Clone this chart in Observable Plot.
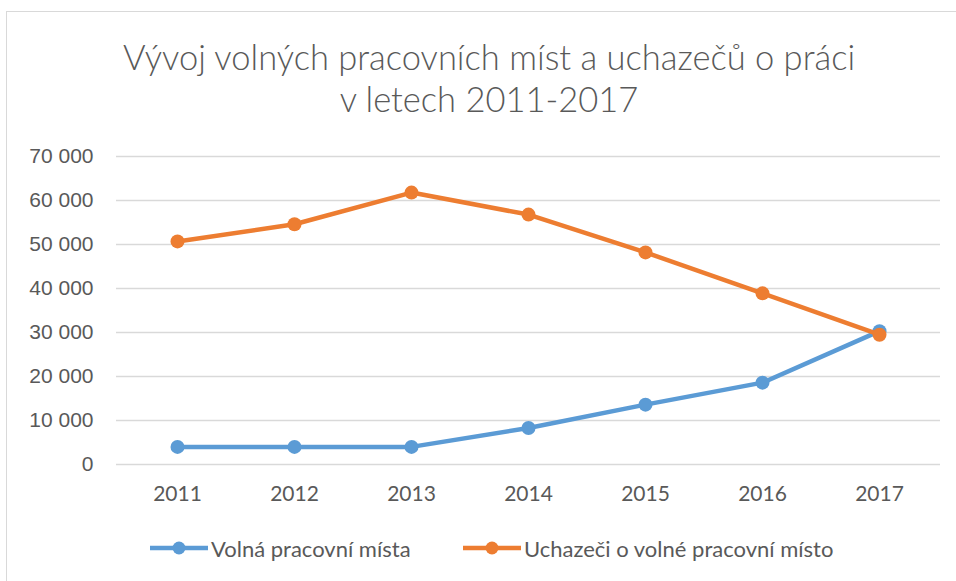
<!DOCTYPE html>
<html>
<head>
<meta charset="utf-8">
<script src="https://cdn.jsdelivr.net/npm/d3@7"></script>
<script src="https://cdn.jsdelivr.net/npm/@observablehq/plot@0.6"></script>
<style>
  html, body { margin: 0; padding: 0; background: #fff; width: 956px; height: 581px; overflow: hidden; }
  #frame { position: absolute; left: 6px; top: 11px; width: 970px; height: 600px; border: 1px solid #d9d9d9; box-sizing: border-box; }
  #title { position: absolute; left: 6px; top: 36px; width: 966px; text-align: center; font-family: Lato, "Open Sans", sans-serif; font-size: 34.5px; line-height: 42px; color: #595959; font-weight: 300; }
  #chart { position: absolute; left: 0; top: 130px; }
  #legend { position: absolute; left: 0; top: 536px; width: 956px; height: 24px; font-family: Lato, sans-serif; font-size: 22px; color: #595959; }
  .item { position: absolute; top: 0; display: flex; align-items: center; height: 24px; }
  .item svg { margin-right: 3px; }
</style>
</head>
<body>
<div id="frame"></div>
<div id="title">Vývoj volných pracovních míst a uchazečů o práci<br>v letech 2011-2017</div>
<div id="chart"></div>
<div id="legend"></div>
<script>
const years = ["2011", "2012", "2013", "2014", "2015", "2016", "2017"];
const volnaMista = [4000, 4000, 4000, 8300, 13600, 18600, 30300];
const uchazeci = [50700, 54600, 61800, 56800, 48200, 38900, 29500];
const seriesNames = ["Volná pracovní místa", "Uchazeči o volné pracovní místo"];
const seriesColors = ["#5b9bd5", "#ed7d31"];
const yTicks = [0, 10000, 20000, 30000, 40000, 50000, 60000, 70000];

const rowsA = years.map((y, i) => ({year: y, value: volnaMista[i], series: seriesNames[0]}));
const rowsB = years.map((y, i) => ({year: y, value: uchazeci[i], series: seriesNames[1]}));

const fmt = d => d3.format(",")(d).replace(/,/g, " ");

const chart = Plot.plot({
  width: 956,
  height: 390,
  marginLeft: 116,
  marginRight: 16,
  marginTop: 26,
  marginBottom: 56,
  style: { fontFamily: "'Liberation Sans', Arial, sans-serif", color: "#595959", background: "transparent" },
  x: { type: "point", domain: years, padding: 0.5 },
  y: { domain: [0, 70000] },
  marks: [
    Plot.gridY(yTicks, { stroke: "#d9d9d9", strokeOpacity: 1, strokeWidth: 1.5 }),
    Plot.axisY(yTicks, { tickSize: 0, tickPadding: 23, tickFormat: fmt, fontSize: 21, fill: "#595959", label: null }),
    Plot.axisX({ tickSize: 0, tickPadding: 22, fontSize: 21, fill: "#595959", label: null, fontFamily: "Lato, sans-serif" }),
    Plot.line(rowsA, { x: "year", y: "value", stroke: seriesColors[0], strokeWidth: 4.5 }),
    Plot.dot(rowsA, { x: "year", y: "value", fill: seriesColors[0], r: 7 }),
    Plot.line(rowsB, { x: "year", y: "value", stroke: seriesColors[1], strokeWidth: 4.5 }),
    Plot.dot(rowsB, { x: "year", y: "value", fill: seriesColors[1], r: 7 })
  ]
});
document.getElementById("chart").appendChild(chart);

const legend = document.getElementById("legend");
const positions = [150, 463];
seriesNames.forEach((name, i) => {
  const item = document.createElement("div");
  item.className = "item";
  item.style.left = positions[i] + "px";
  item.innerHTML = `<svg width="58" height="16"><line x1="0" y1="8" x2="58" y2="8" stroke="${seriesColors[i]}" stroke-width="4.5"/><circle cx="29" cy="8" r="6.5" fill="${seriesColors[i]}"/></svg><span>${name}</span>`;
  legend.appendChild(item);
});
</script>
</body>
</html>
